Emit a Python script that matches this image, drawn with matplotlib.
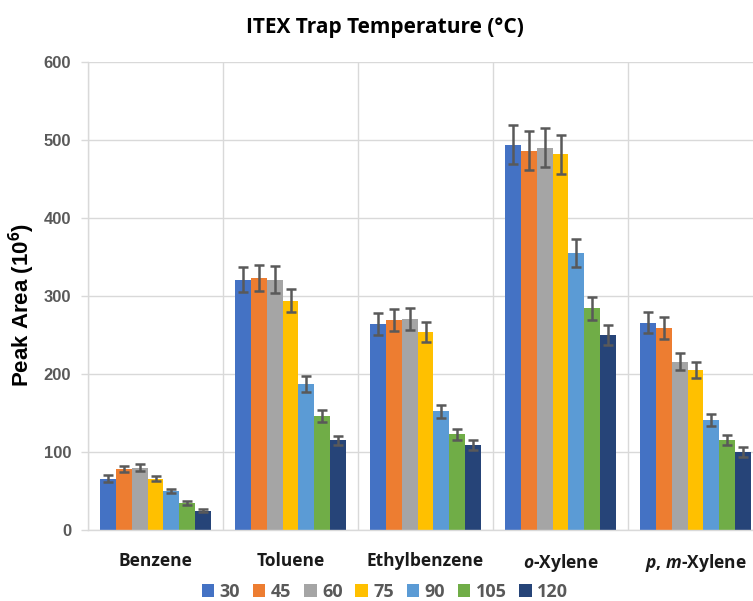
"""Grouped bar chart: BTEX peak areas by ITEX trap temperature."""
import matplotlib
import matplotlib.pyplot as plt
import numpy as np
from matplotlib.patches import Patch

matplotlib.use("Agg")

compounds = [
    "Benzene",
    "Toluene",
    "Ethylbenzene",
    r"$\mathbfit{o}$-Xylene",
    r"$\mathbfit{p}$, $\mathbfit{m}$-Xylene",
]
temperatures = ["30", "45", "60", "75", "90", "105", "120"]

# peak area (x10^6) per compound, one list per trap temperature
area_30 = [66, 321, 264, 494, 266]
area_45 = [78, 323, 269, 486, 259]
area_60 = [80, 321, 270, 490, 216]
area_75 = [66, 294, 254, 482, 205]
area_90 = [50, 187, 152, 355, 141]
area_105 = [35, 146, 123, 284, 115]
area_120 = [25, 115, 109, 250, 100]

err_30 = [4, 16, 14, 25, 14]
err_45 = [4, 17, 14, 25, 14]
err_60 = [4, 17, 14, 25, 11]
err_75 = [3.5, 15, 13, 25, 10]
err_90 = [3, 10, 8, 18, 8]
err_105 = [2.5, 7.5, 7, 14.5, 6.5]
err_120 = [2, 5.5, 6, 13, 6.5]

areas = [area_30, area_45, area_60, area_75, area_90, area_105, area_120]
errors = [err_30, err_45, err_60, err_75, err_90, err_105, err_120]
colors = ["#4472C4", "#ED7D31", "#A5A5A5", "#FFC000", "#5B9BD5", "#70AD47", "#264478"]

plt.rcParams["font.family"] = ["Open Sans", "DejaVu Sans"]
plt.rcParams["mathtext.fontset"] = "custom"
plt.rcParams["mathtext.rm"] = "Open Sans"
plt.rcParams["mathtext.bf"] = "Open Sans:bold"
plt.rcParams["mathtext.bfit"] = "Open Sans:italic:bold"

W, H = 753, 601
fig = plt.figure(figsize=(W / 100, H / 100), dpi=100)
# plot area runs past the right edge of the canvas
ax = fig.add_axes([88 / W, 71 / H, 675 / W, 468 / H])

x = np.arange(len(compounds))
width = 0.1185
grey = "#595959"
for i, (vals, errs) in enumerate(zip(areas, errors)):
    offs = (i - 3) * width
    ax.bar(x + offs, vals, width, color=colors[i], zorder=2)
    ax.errorbar(x + offs, vals, yerr=errs, fmt="none", ecolor=grey,
                elinewidth=1.8, capsize=3.5, capthick=1.8, zorder=3)

ax.set_xlim(-0.5, len(compounds) - 0.5)
ax.set_ylim(0, 600)
ax.set_yticks(range(0, 601, 100))
ax.set_xticks(x)
ax.set_xticklabels(compounds, fontsize=12.5, fontweight="bold", color="#1a1a1a")
ax.set_xticks(np.arange(-0.5, len(compounds), 1), minor=True)

ax.grid(axis="y", color="#D9D9D9", linewidth=1, zorder=0)
ax.grid(axis="x", which="minor", color="#D9D9D9", linewidth=1, zorder=0)
ax.tick_params(axis="x", which="both", length=0, pad=16)
ax.tick_params(axis="y", length=5, width=1, color="#D9D9D9", pad=7,
               labelsize=12, labelcolor=grey)
for lbl in ax.get_yticklabels():
    lbl.set_fontweight("bold")
    lbl.set_family(["Liberation Sans", "DejaVu Sans"])
for side in ("top", "right"):
    ax.spines[side].set_visible(False)
for side in ("left", "bottom"):
    ax.spines[side].set_color("#D9D9D9")
    ax.spines[side].set_linewidth(1)

ax.set_ylabel(r"Peak Area (10$^{\mathbf{6}}$)", fontsize=16, fontweight="bold",
              family=["Liberation Sans", "DejaVu Sans"], color="black")
ax.yaxis.set_label_coords(-0.075, 0.48)

fig.text(385 / W, 1 - 27 / H, "ITEX Trap Temperature (°C)", ha="center",
         va="center", fontsize=15, fontweight="bold", color="black")

handles = [Patch(facecolor=c, edgecolor="none") for c in colors]
leg = fig.legend(handles, temperatures, loc="center", bbox_to_anchor=(385 / W, 1 - 592 / H),
                 ncol=len(temperatures), frameon=False, handlelength=0.7,
                 handleheight=0.7, handletextpad=0.3, columnspacing=0.7,
                 prop={"size": 13, "weight": "bold"})
for t in leg.get_texts():
    t.set_color(grey)

fig.savefig("out.png", dpi=100)
